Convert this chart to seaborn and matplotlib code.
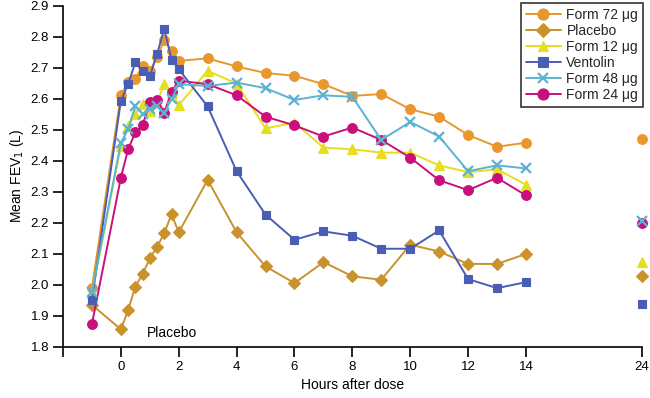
import matplotlib
matplotlib.use("Agg")
import matplotlib.pyplot as plt
import seaborn as sns
import pandas as pd
import numpy as np

sns.set_theme(style="white")
plt.rcParams['font.family'] = ['Liberation Sans', 'DejaVu Sans']

hours = [-1, 0, 0.25, 0.5, 0.75, 1, 1.25, 1.5, 1.75, 2, 3, 4, 5, 6, 7, 8, 9, 10, 11, 12, 13, 14]
hour_24 = 24
tick_labels = ['', '0', '2', '4', '6', '8', '10', '12', '14', '24']

form72 = [1.99, 2.612, 2.655, 2.663, 2.706, 2.69, 2.733, 2.79, 2.755, 2.722, 2.73,
          2.704, 2.683, 2.674, 2.647, 2.609, 2.615, 2.566, 2.542, 2.483, 2.445, 2.458]
form72_24 = 2.469
placebo = [1.935, 1.856, 1.918, 1.994, 2.034, 2.085, 2.122, 2.166, 2.227, 2.169, 2.338,
           2.169, 2.059, 2.005, 2.073, 2.027, 2.016, 2.129, 2.107, 2.067, 2.067, 2.099]
placebo_24 = 2.029
form12 = [1.972, 2.447, 2.512, 2.55, 2.582, 2.56, 2.589, 2.647, 2.62, 2.579, 2.69,
          2.649, 2.504, 2.523, 2.442, 2.437, 2.426, 2.426, 2.385, 2.363, 2.372, 2.323]
form12_24 = 2.073
ventolin = [1.951, 2.593, 2.647, 2.717, 2.69, 2.672, 2.744, 2.825, 2.726, 2.695, 2.575,
            2.366, 2.226, 2.145, 2.172, 2.158, 2.116, 2.116, 2.175, 2.018, 1.989, 2.008]
ventolin_24 = 1.938
form48 = [1.975, 2.458, 2.501, 2.577, 2.55, 2.566, 2.575, 2.555, 2.598, 2.647, 2.641,
          2.652, 2.634, 2.596, 2.611, 2.606, 2.467, 2.525, 2.478, 2.366, 2.385, 2.375]
form48_24 = 2.204
form24 = [1.873, 2.345, 2.437, 2.491, 2.514, 2.588, 2.595, 2.555, 2.622, 2.658, 2.647,
          2.611, 2.542, 2.514, 2.478, 2.507, 2.467, 2.41, 2.337, 2.305, 2.345, 2.288]
form24_24 = 2.199

series = {
    'Form 72 \u03bcg': (form72, form72_24),
    'Placebo': (placebo, placebo_24),
    'Form 12 \u03bcg': (form12, form12_24),
    'Ventolin': (ventolin, ventolin_24),
    'Form 48 \u03bcg': (form48, form48_24),
    'Form 24 \u03bcg': (form24, form24_24),
}
styles = {
    'Form 72 \u03bcg': dict(color='#E8972C', marker='o', ms=7.0, z=3),
    'Placebo': dict(color='#C9922C', marker='D', ms=6.0, z=3.1),
    'Form 12 \u03bcg': dict(color='#E6DE1E', marker='^', ms=6.5, z=3.2),
    'Ventolin': dict(color='#4A5DB4', marker='s', ms=6.0, z=3.4),
    'Form 48 \u03bcg': dict(color='#5CB2D2', marker='x', ms=6.5, z=3.5),
    'Form 24 \u03bcg': dict(color='#C90F7B', marker='o', ms=7.0, z=3.3),
}

# broken axis: 24 h is placed 4 units after 14 h
def pos(h):
    return 18.0 if h == 24 else h

fig = plt.figure(figsize=(6.5, 3.98), dpi=100)
ax = fig.add_axes([63 / 650, 51.3 / 398, (641.7 - 63) / 650, (346.7 - 5.7) / 398])

handles = []
for name, (vals, v24) in series.items():
    st = styles[name]
    df = pd.DataFrame({'x': [pos(h) for h in hours], 'y': vals})
    mew = 1.6 if st['marker'] == 'x' else 0.8
    sns.lineplot(data=df, x='x', y='y', ax=ax, color=st['color'], lw=1.4,
                 marker=st['marker'], markersize=st['ms'], markeredgecolor=st['color'],
                 markeredgewidth=mew, zorder=st['z'], clip_on=False, sort=False,
                 estimator=None, legend=False)
    df24 = pd.DataFrame({'x': [pos(hour_24)], 'y': [v24]})
    ax.plot(df24['x'], df24['y'], linestyle='none', marker=st['marker'],
            markersize=st['ms'], color=st['color'], markeredgecolor=st['color'],
            markeredgewidth=mew, zorder=st['z'], clip_on=False)
    h, = ax.plot([], [], color=st['color'], lw=1.4, marker=st['marker'],
                 markersize=st['ms'] + 1, markeredgecolor=st['color'], markeredgewidth=mew)
    handles.append((h, name))

ax.set_xlim(-2, 18)
ax.set_ylim(1.8, 2.9)
xt = [-2, 0, 2, 4, 6, 8, 10, 12, 14, 18]
ax.set_xticks(xt)
ax.set_xticklabels(tick_labels)
ax.set_yticks(np.round(np.arange(1.8, 2.91, 0.1), 1))
ax.set_yticklabels([f'{v:.1f}' for v in np.arange(1.8, 2.91, 0.1)])

for s in ['top', 'right']:
    ax.spines[s].set_visible(False)
for s in ['left', 'bottom']:
    ax.spines[s].set_color('black')
    ax.spines[s].set_linewidth(1.2)
ax.tick_params(axis='both', direction='out', length=7, width=1.2, colors='black',
               labelsize=9.5, pad=3, bottom=True, left=True)
ax.set_xlabel('Hours after dose', fontsize=10, color='black', labelpad=4)
ax.set_ylabel('Mean FEV$_1$ (L)', fontsize=10, color='black', labelpad=3)

ax.text(1.75, 1.845, 'Placebo', fontsize=10, ha='center', va='center', color='black')

leg = fig.legend([h for h, _ in handles], [n for _, n in handles],
                 loc='upper right', bbox_to_anchor=(643 / 650, 1 - 3 / 398),
                 bbox_transform=fig.transFigure, frameon=True, fancybox=False,
                 fontsize=10, handlelength=2.5, handletextpad=0.4, labelspacing=0.15,
                 borderpad=0.35, borderaxespad=0)
leg.get_frame().set_edgecolor('black')
leg.get_frame().set_linewidth(1.2)

fig.savefig('out.png', dpi=100)
